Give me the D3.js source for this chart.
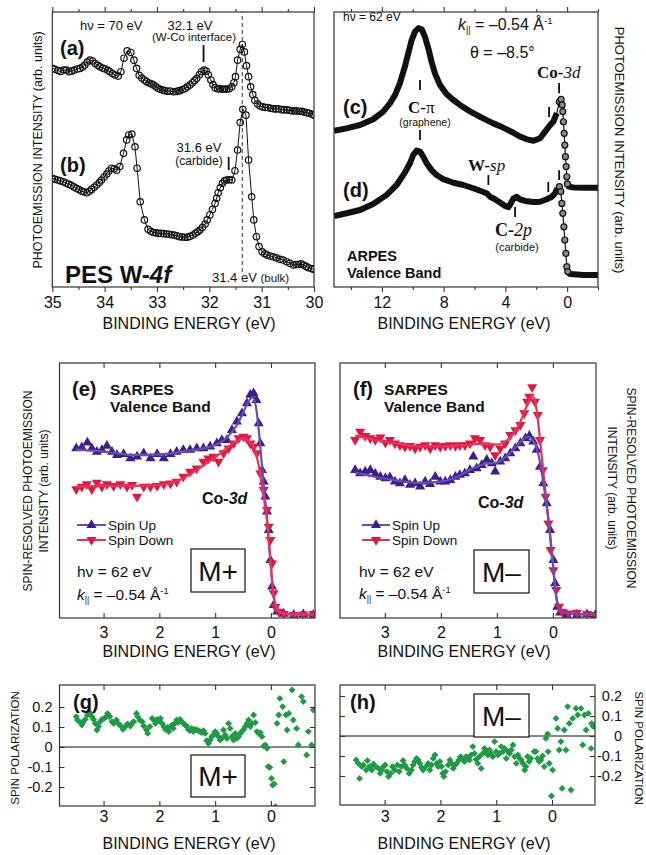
<!DOCTYPE html>
<html>
<head>
<meta charset="utf-8">
<script src="https://cdn.jsdelivr.net/npm/d3@7"></script>
<style>
  body { margin: 0; background: #fff; }
  svg text { font-family: "Liberation Sans", Arial, sans-serif; fill: #111; }
  svg text.serif { font-family: "Liberation Serif", "Times New Roman", serif; }
</style>
</head>
<body>
<div id="chart"></div>
<script>
// ---- tick values ----
const pesTicks = [35, 34, 33, 32, 31, 30];
const pesMinor = [34.5, 33.5, 32.5, 31.5, 30.5];
const vbTicks = [12, 8, 4, 0];
const vbMinor = [14, 10, 6, 2, -2];
const srTicks = [3, 2, 1, 0];
const polTicks = [-0.2, -0.1, 0, 0.1, 0.2];

// ---- (a) / (b) W-4f core level: [binding energy eV, intensity arb.] ----
const pesA = [[35.00,79.5],[34.95,79.2],[34.89,78.7],[34.84,78.4],[34.78,78.9],[34.73,78.9],[34.68,78.3],[34.63,78.5],[34.58,78.9],[34.52,79.3],[34.47,79.5],[34.42,80.0],[34.38,80.7],[34.33,81.8],[34.28,82.5],[34.23,82.2],[34.18,81.3],[34.13,80.6],[34.09,80.1],[34.04,79.6],[33.99,79.3],[33.94,78.8],[33.90,78.3],[33.85,77.6],[33.80,77.1],[33.74,76.7],[33.69,78.3],[33.63,83.2],[33.57,85.9],[33.50,85.3],[33.44,82.5],[33.39,79.5],[33.34,77.0],[33.29,76.0],[33.24,75.3],[33.20,74.7],[33.15,74.2],[33.11,73.9],[33.07,73.5],[33.02,72.8],[32.98,72.3],[32.94,71.9],[32.89,71.6],[32.85,71.4],[32.80,71.2],[32.75,71.3],[32.69,71.0],[32.64,71.1],[32.60,71.3],[32.56,71.4],[32.51,71.8],[32.46,72.2],[32.42,72.8],[32.37,73.5],[32.32,74.3],[32.28,75.1],[32.24,75.9],[32.19,77.2],[32.15,78.3],[32.10,78.9],[32.06,78.5],[32.02,77.2],[31.97,75.3],[31.93,73.6],[31.89,72.5],[31.84,72.0],[31.80,72.2],[31.75,71.9],[31.71,72.0],[31.67,71.9],[31.62,72.1],[31.57,72.8],[31.53,74.3],[31.50,76.5],[31.46,82.5],[31.41,86.4],[31.37,88.2],[31.33,85.5],[31.29,80.5],[31.25,76.5],[31.21,72.8],[31.17,70.0],[31.13,67.9],[31.08,66.6],[31.03,65.8],[30.98,65.5],[30.93,65.3],[30.88,65.3],[30.83,65.0],[30.78,64.8],[30.73,64.7],[30.68,64.8],[30.62,64.5],[30.57,64.4],[30.52,64.4],[30.47,64.3],[30.42,64.0],[30.37,64.1],[30.33,64.0],[30.28,63.9],[30.23,63.9],[30.19,63.6],[30.14,63.4],[30.09,63.2],[30.04,62.8],[30.00,62.5]];
const pesB = [[35.00,39.5],[34.95,39.2],[34.90,38.9],[34.85,38.6],[34.79,38.3],[34.74,37.8],[34.69,37.4],[34.64,37.0],[34.59,36.4],[34.54,35.9],[34.49,35.4],[34.44,34.9],[34.40,34.6],[34.34,34.3],[34.29,34.8],[34.25,35.5],[34.20,36.3],[34.15,37.1],[34.10,38.0],[34.06,38.9],[34.01,40.0],[33.96,41.1],[33.92,42.2],[33.87,43.2],[33.82,43.0],[33.77,42.5],[33.71,43.8],[33.64,48.6],[33.58,53.5],[33.54,55.3],[33.48,55.6],[33.42,51.0],[33.38,43.2],[33.32,31.0],[33.24,24.4],[33.17,21.0],[33.12,20.3],[33.07,19.8],[33.02,19.7],[32.97,19.5],[32.92,19.5],[32.87,19.4],[32.82,19.3],[32.77,19.2],[32.72,19.0],[32.67,18.9],[32.62,18.6],[32.57,18.3],[32.52,18.2],[32.47,18.1],[32.42,18.1],[32.37,18.4],[32.31,18.9],[32.26,19.6],[32.22,20.1],[32.18,20.7],[32.13,21.7],[32.08,22.9],[32.04,24.4],[31.99,26.2],[31.94,28.2],[31.89,30.4],[31.86,32.3],[31.83,34.3],[31.79,36.1],[31.75,37.7],[31.71,38.6],[31.67,38.9],[31.62,39.0],[31.57,38.9],[31.51,42.3],[31.46,49.8],[31.41,59.8],[31.36,64.6],[31.30,62.5],[31.25,46.2],[31.19,32.8],[31.15,24.4],[31.10,18.3],[31.05,14.7],[30.99,12.8],[30.94,12.1],[30.90,11.6],[30.84,11.3],[30.78,11.0],[30.72,10.6],[30.65,10.1],[30.59,9.8],[30.52,9.2],[30.46,8.6],[30.39,8.0],[30.34,8.2],[30.30,8.2],[30.25,8.4],[30.20,8.0],[30.15,7.5],[30.11,7.0],[30.05,6.7],[30.00,6.4]];
const pesBars = [[32.11, 81.8, 88.0], [31.63, 42.5, 47.3]];
const bulkLine = [31.37, 5.5, 100];

// ---- (c) / (d) ARPES valence band ----
const vbC = [[15.09,56.8],[14.29,57.7],[13.42,58.9],[12.56,61.0],[11.91,63.8],[11.48,66.8],[11.15,69.8],[10.83,74.1],[10.51,80.1],[10.29,85.0],[10.07,89.8],[9.86,92.8],[9.64,94.1],[9.42,93.7],[9.21,91.0],[8.99,86.8],[8.78,81.9],[8.56,77.7],[8.24,73.5],[7.80,70.1],[7.37,68.0],[6.94,66.2],[6.51,64.6],[6.08,63.2],[5.64,61.9],[5.21,60.7],[4.78,59.5],[4.35,58.5],[3.91,57.3],[3.48,56.1],[3.05,54.7],[2.61,53.7],[2.18,53.2],[1.75,54.1],[1.43,56.5],[1.10,58.9],[0.89,60.1],[0.67,63.2],[0.50,67.4],[0.39,68.2],[0.32,66.2],[0.28,63.8],[0.24,60.1],[0.19,55.9],[0.15,51.6],[0.11,47.4],[0.06,43.8],[0.02,40.1],[-0.02,37.5],[-0.11,36.5],[-0.41,36.2],[-1.28,36.1],[-2.00,36.1]];
const vbD = [[15.09,25.8],[14.29,26.8],[13.42,28.0],[12.56,30.2],[11.69,33.5],[11.04,37.1],[10.51,41.6],[10.18,45.0],[9.97,48.0],[9.75,49.6],[9.53,49.2],[9.32,47.4],[9.10,45.0],[8.78,42.5],[8.45,40.7],[8.02,39.2],[7.37,37.9],[6.72,37.1],[6.08,35.9],[5.64,35.0],[5.21,34.1],[4.99,32.8],[4.67,31.9],[4.35,30.7],[4.02,29.5],[3.80,29.0],[3.65,30.4],[3.48,32.2],[3.26,32.8],[3.05,31.9],[2.72,31.3],[2.18,30.9],[1.75,31.0],[1.32,31.9],[0.99,32.8],[0.78,34.1],[0.63,35.9],[0.50,36.5],[0.41,34.7],[0.34,30.4],[0.28,26.8],[0.21,21.9],[0.15,17.1],[0.08,12.2],[0.02,7.4],[-0.04,5.6],[-0.19,4.7],[-1.06,4.4],[-2.00,4.4]];
const vbBars = [[9.53,71.6,75.3],[9.53,53.5,57.1],[0.52,70.5,74.2],[1.17,61.8,65.5],[5.10,37.1,40.7],[1.22,34.5,38.2],[0.52,38.9,42.5],[3.37,25.5,29.1]];

// ---- (e) SARPES M+ ----
const upE = [[3.49,66.5],[3.39,66.9],[3.29,68.8],[3.21,66.5],[3.12,65.2],[3.03,65.9],[2.94,67.5],[2.85,65.2],[2.76,63.9],[2.64,64.3],[2.52,62.6],[2.40,63.3],[2.28,64.6],[2.16,62.6],[2.04,64.3],[1.92,62.6],[1.80,64.3],[1.69,65.2],[1.57,65.9],[1.45,65.9],[1.33,66.5],[1.21,66.5],[1.09,67.2],[0.97,68.5],[0.88,69.8],[0.79,69.8],[0.70,73.7],[0.61,77.0],[0.52,80.3],[0.43,84.2],[0.37,87.5],[0.31,88.1],[0.26,85.5],[0.22,76.3],[0.19,68.5],[0.16,58.0],[0.13,53.5],[0.10,47.6],[0.07,41.7],[0.04,34.5],[0.01,22.7],[-0.02,12.3],[-0.05,5.1],[-0.11,2.5],[-0.23,1.6],[-0.41,1.2],[-0.58,1.4],[-0.76,1.2]];
const downE = [[3.49,50.5],[3.39,51.5],[3.30,52.5],[3.21,50.5],[3.12,53.1],[3.03,51.5],[2.94,52.5],[2.82,51.8],[2.70,52.5],[2.58,51.5],[2.49,52.2],[2.40,47.6],[2.28,51.5],[2.16,51.5],[2.04,51.8],[1.92,52.5],[1.80,52.8],[1.69,53.5],[1.57,55.4],[1.45,57.4],[1.33,58.7],[1.21,61.3],[1.12,62.6],[1.03,63.3],[0.94,61.3],[0.85,64.6],[0.76,66.5],[0.67,68.5],[0.58,70.5],[0.49,71.1],[0.43,70.5],[0.37,68.5],[0.31,67.2],[0.25,64.6],[0.19,56.7],[0.13,50.2],[0.07,42.4],[0.04,35.8],[0.01,30.6],[-0.02,21.4],[-0.05,9.7],[-0.08,4.4],[-0.14,2.5],[-0.23,1.6],[-0.41,1.2],[-0.58,1.4],[-0.76,1.6]];
const fitUpE = [[3.5,66],[3.0,65.3],[2.5,64],[2.0,64.2],[1.5,65.5],[1.2,66.5],[1.0,67.8],[0.8,70.5],[0.6,76],[0.5,80.5],[0.4,85],[0.33,86.5],[0.27,83],[0.22,74],[0.17,62],[0.12,50],[0.07,39],[0.03,28],[0,20],[-0.04,10],[-0.08,5],[-0.15,2.5],[-0.3,1.5],[-0.77,1.3]];
const fitDownE = [[3.5,51.5],[3.0,51.8],[2.5,51.8],[2.0,52.2],[1.7,53.5],[1.4,57],[1.2,60],[1.0,63],[0.8,66.5],[0.6,69.5],[0.48,70.5],[0.4,69.5],[0.3,66.5],[0.22,60],[0.17,53],[0.12,46],[0.07,38],[0.03,28],[0,20],[-0.04,10],[-0.08,5],[-0.15,2.5],[-0.3,1.5],[-0.77,1.3]];

// ---- (f) SARPES M- ----
const upF = [[3.53,58.0],[3.44,56.7],[3.35,57.4],[3.26,58.0],[3.17,56.5],[3.08,55.4],[2.99,54.8],[2.91,55.2],[2.82,53.5],[2.73,52.8],[2.64,54.1],[2.55,52.2],[2.46,52.8],[2.37,51.5],[2.28,53.5],[2.19,52.5],[2.10,55.4],[2.01,53.5],[1.92,53.5],[1.83,54.1],[1.74,55.4],[1.66,56.1],[1.57,56.7],[1.48,58.0],[1.42,63.3],[1.36,58.7],[1.27,60.0],[1.18,62.0],[1.09,60.7],[1.03,57.4],[0.94,61.3],[0.85,62.6],[0.76,64.6],[0.67,66.5],[0.58,68.5],[0.49,70.5],[0.42,71.4],[0.35,69.2],[0.29,65.9],[0.23,59.3],[0.17,52.8],[0.11,45.0],[0.05,34.5],[-0.01,22.7],[-0.04,13.6],[-0.08,4.4],[-0.13,2.1],[-0.25,1.2],[-0.43,1.2],[-0.61,1.4],[-0.76,1.2]];
const downF = [[3.53,69.8],[3.44,73.1],[3.35,71.4],[3.26,70.5],[3.17,69.8],[3.08,70.8],[2.99,68.8],[2.91,69.8],[2.82,68.5],[2.73,67.8],[2.64,67.2],[2.55,67.5],[2.46,66.5],[2.37,67.2],[2.28,67.8],[2.19,66.5],[2.10,67.8],[2.01,67.2],[1.92,67.5],[1.83,67.8],[1.74,67.5],[1.66,67.8],[1.57,67.8],[1.48,68.5],[1.39,70.5],[1.30,69.8],[1.21,67.8],[1.12,67.2],[1.03,63.9],[0.94,66.5],[0.85,68.5],[0.76,71.8],[0.67,73.7],[0.58,75.7],[0.51,80.3],[0.46,84.8],[0.42,86.8],[0.37,90.5],[0.32,84.8],[0.27,79.6],[0.23,69.8],[0.18,58.0],[0.13,47.6],[0.08,37.1],[0.04,26.7],[-0.01,18.8],[-0.06,11.0],[-0.11,4.4],[-0.16,2.5],[-0.28,1.8],[-0.43,2.1],[-0.61,1.6],[-0.76,1.2]];
const fitUpF = [[3.53,57],[3.2,55.5],[2.8,54],[2.4,53],[2.0,53.5],[1.7,55.5],[1.4,59],[1.2,60.5],[1.0,61],[0.8,64],[0.6,68.5],[0.45,71],[0.35,69.5],[0.28,66],[0.22,60],[0.15,50],[0.1,42],[0.05,32],[0,21],[-0.05,10],[-0.1,4.5],[-0.2,2.2],[-0.4,1.6],[-0.77,1.4]];
const fitDownF = [[3.53,71.5],[3.2,70],[2.8,68.5],[2.4,67.3],[2.0,67.3],[1.6,67.8],[1.3,68.3],[1.0,68],[0.8,70],[0.65,74],[0.55,78.5],[0.45,84],[0.38,87],[0.33,86],[0.28,80],[0.22,68],[0.15,53],[0.1,43],[0.05,33],[0,22],[-0.05,10],[-0.1,4.5],[-0.2,2.2],[-0.4,1.6],[-0.77,1.4]];

// ---- (g) / (h) spin polarization: [binding energy eV, polarization] ----
const polG = [[3.49,0.152],[3.47,0.135],[3.43,0.127],[3.39,0.110],[3.37,0.122],[3.33,0.138],[3.29,0.160],[3.27,0.177],[3.24,0.168],[3.21,0.152],[3.18,0.138],[3.15,0.118],[3.12,0.085],[3.09,0.102],[3.06,0.127],[3.03,0.138],[2.99,0.143],[2.95,0.152],[2.93,0.168],[2.89,0.152],[2.85,0.127],[2.82,0.118],[2.77,0.135],[2.73,0.115],[2.69,0.105],[2.65,0.088],[2.61,0.102],[2.57,0.115],[2.52,0.105],[2.49,0.118],[2.46,0.127],[2.41,0.168],[2.39,0.152],[2.35,0.135],[2.31,0.127],[2.28,0.105],[2.23,0.085],[2.21,0.068],[2.17,0.102],[2.13,0.143],[2.10,0.135],[2.07,0.118],[2.04,0.138],[2.01,0.132],[1.98,0.143],[1.95,0.118],[1.92,0.102],[1.89,0.088],[1.86,0.098],[1.83,0.077],[1.80,0.102],[1.77,0.110],[1.75,0.093],[1.72,0.118],[1.69,0.135],[1.66,0.122],[1.63,0.138],[1.60,0.127],[1.57,0.118],[1.54,0.110],[1.51,0.105],[1.48,0.088],[1.45,0.082],[1.42,0.093],[1.39,0.077],[1.36,0.088],[1.33,0.085],[1.30,0.082],[1.27,0.077],[1.24,0.072],[1.21,0.082],[1.18,0.068],[1.15,0.032],[1.12,0.018],[1.09,0.035],[1.06,0.052],[1.03,0.060],[1.00,0.077],[0.97,0.068],[0.94,0.052],[0.91,0.035],[0.88,0.043],[0.85,0.085],[0.82,0.060],[0.79,0.043],[0.76,0.118],[0.73,0.093],[0.70,0.052],[0.67,0.035],[0.64,0.068],[0.61,0.043],[0.58,0.052],[0.55,0.068],[0.52,0.077],[0.49,0.088],[0.46,0.102],[0.43,0.118],[0.40,0.135],[0.37,0.102],[0.34,0.118],[0.31,0.160],[0.28,0.122],[0.25,0.077],[0.22,0.068],[0.19,0.072],[0.16,0.052],[0.13,0.005],[0.10,0.010],[0.07,-0.007],[0.05,-0.098],[0.02,-0.102],[-0.01,-0.157],[-0.03,-0.190],[-0.06,-0.185],[-0.08,-0.298],[-0.11,0.118],[-0.14,0.160],[-0.16,0.243],[-0.21,0.202],[-0.23,-0.073],[-0.27,0.160],[-0.29,0.085],[-0.32,0.168],[-0.38,0.285],[-0.40,0.135],[-0.46,0.093],[-0.49,0.010],[-0.55,0.252],[-0.58,0.227],[-0.64,-0.040],[-0.67,0.077],[-0.73,0.010],[-0.76,0.185]];
const polH = [[3.51,-0.120],[3.47,-0.137],[3.45,-0.212],[3.41,-0.153],[3.38,-0.145],[3.33,-0.170],[3.31,-0.123],[3.27,-0.153],[3.23,-0.170],[3.20,-0.140],[3.16,-0.153],[3.11,-0.162],[3.08,-0.187],[3.05,-0.170],[3.02,-0.153],[2.99,-0.145],[2.96,-0.178],[2.93,-0.203],[2.89,-0.187],[2.86,-0.153],[2.82,-0.170],[2.77,-0.145],[2.74,-0.178],[2.70,-0.153],[2.67,-0.123],[2.64,-0.145],[2.60,-0.162],[2.56,-0.187],[2.52,-0.170],[2.49,-0.145],[2.46,-0.128],[2.43,-0.112],[2.40,-0.120],[2.37,-0.137],[2.34,-0.157],[2.31,-0.170],[2.26,-0.153],[2.22,-0.137],[2.19,-0.170],[2.16,-0.145],[2.13,-0.112],[2.10,-0.095],[2.07,-0.137],[2.04,-0.153],[2.01,-0.128],[1.98,-0.153],[1.96,-0.187],[1.94,-0.203],[1.91,-0.178],[1.86,-0.145],[1.83,-0.120],[1.80,-0.137],[1.77,-0.162],[1.74,-0.145],[1.71,-0.137],[1.67,-0.120],[1.64,-0.103],[1.61,-0.117],[1.57,-0.128],[1.54,-0.103],[1.51,-0.112],[1.48,-0.120],[1.45,-0.095],[1.42,-0.053],[1.39,-0.087],[1.36,-0.117],[1.33,-0.137],[1.30,-0.103],[1.27,-0.162],[1.24,-0.087],[1.21,-0.062],[1.18,-0.078],[1.15,-0.095],[1.12,-0.070],[1.09,-0.087],[1.06,-0.103],[1.03,-0.028],[1.00,-0.078],[0.97,-0.095],[0.94,-0.087],[0.91,-0.053],[0.88,-0.078],[0.85,-0.062],[0.82,-0.112],[0.79,-0.078],[0.76,-0.087],[0.73,-0.070],[0.70,-0.045],[0.67,-0.103],[0.64,-0.137],[0.61,-0.095],[0.58,-0.112],[0.55,-0.120],[0.52,-0.137],[0.49,-0.170],[0.47,-0.153],[0.44,-0.103],[0.41,-0.128],[0.38,-0.112],[0.32,-0.078],[0.29,-0.078],[0.26,-0.112],[0.23,-0.128],[0.20,-0.120],[0.17,-0.100],[0.14,-0.153],[0.11,-0.012],[0.08,0.010],[0.07,-0.078],[0.05,-0.137],[0.01,-0.300],[-0.01,-0.170],[-0.07,0.088],[-0.10,0.038],[-0.13,-0.070],[-0.16,-0.028],[-0.18,-0.262],[-0.22,0.030],[-0.25,-0.070],[-0.28,0.147],[-0.31,0.063],[-0.34,-0.270],[-0.37,0.088],[-0.43,0.138],[-0.46,0.105],[-0.52,0.138],[-0.55,-0.045],[-0.58,0.105],[-0.61,0.030],[-0.65,0.113],[-0.70,-0.062],[-0.71,0.063],[-0.74,0.047]];

// ---- styling ----
const C_UP = '#3d1e8e', C_DN = '#e2173f', L_UP = '#6450b4', L_DN = '#e8345a', C_POL = '#1f9a45';
const FRAME = '#333';

const W = 646, H = 855;
const svg = d3.select('#chart').append('svg').attr('width', W).attr('height', H);
const defs = svg.append('defs');

let clipN = 0;
function panel(l, t, r, b, xDom, yDom) {
  const x = d3.scaleLinear().domain(xDom).range([l, r]);
  const y = d3.scaleLinear().domain(yDom).range([b, t]);
  const id = 'clip' + (clipN++);
  defs.append('clipPath').attr('id', id).append('rect')
    .attr('x', l).attr('y', t).attr('width', r - l).attr('height', b - t);
  const g = svg.append('g').attr('clip-path', `url(#${id})`);
  return { l, t, r, b, x, y, g };
}
function frame(P) {
  svg.append('rect').attr('x', P.l).attr('y', P.t)
    .attr('width', P.r - P.l).attr('height', P.b - P.t)
    .attr('fill', 'none').attr('stroke', FRAME).attr('stroke-width', 1.2);
}
function clean(sel, fs) {
  sel.select('.domain').remove();
  sel.attr('color', FRAME).attr('font-size', fs)
    .attr('font-family', '"Liberation Sans", Arial, sans-serif');
  sel.selectAll('line').attr('stroke-width', 1.1);
}
function xAxes(P, major, minor, inward, pad) {
  const s = inward ? -1 : 1;
  svg.append('g').attr('transform', `translate(0,${P.b})`)
    .call(d3.axisBottom(P.x).tickValues(major).tickSize(5 * s).tickPadding(pad).tickFormat(d3.format('d')))
    .call(g => clean(g, 16));
  svg.append('g').attr('transform', `translate(0,${P.t})`)
    .call(d3.axisTop(P.x).tickValues(major).tickSize(5 * s).tickFormat(''))
    .call(g => clean(g, 16));
  if (minor) {
    svg.append('g').attr('transform', `translate(0,${P.b})`)
      .call(d3.axisBottom(P.x).tickValues(minor).tickSize(3 * s).tickFormat(''))
      .call(g => clean(g, 16));
    svg.append('g').attr('transform', `translate(0,${P.t})`)
      .call(d3.axisTop(P.x).tickValues(minor).tickSize(3 * s).tickFormat(''))
      .call(g => clean(g, 16));
  }
}
function xTitle(cx, y) {
  svg.append('text').attr('x', cx).attr('y', y).attr('text-anchor', 'middle')
    .attr('font-size', 16).text('BINDING ENERGY (eV)');
}
function vText(x, y, rot, fs, str) {
  svg.append('text').attr('transform', `translate(${x},${y}) rotate(${rot})`)
    .attr('text-anchor', 'middle').attr('dy', '0.35em').attr('font-size', fs).text(str);
}
function txt(x, y, fs, str, opt = {}) {
  const t = svg.append('text').attr('x', x).attr('y', y).attr('font-size', fs)
    .attr('text-anchor', opt.anchor || 'start');
  if (opt.bold) t.attr('font-weight', 'bold');
  if (opt.cls) t.attr('class', opt.cls);
  if (str != null) t.text(str);
  return t;
}
function bars(P, list, w) {
  svg.append('g').selectAll('line').data(list).join('line')
    .attr('x1', d => P.x(d[0])).attr('x2', d => P.x(d[0]))
    .attr('y1', d => P.y(d[1])).attr('y2', d => P.y(d[2]))
    .attr('stroke', '#111').attr('stroke-width', w);
}
function hv(x, y, fs, val) {
  const t = txt(x, y, fs, null);
  t.append('tspan').text('h\u03BD = ' + val + ' eV');
}
function kpar(x, y, fs) {
  const t = txt(x, y, fs, null);
  t.append('tspan').attr('font-style', 'italic').attr('class', 'serif').text('k');
  t.append('tspan').attr('font-size', fs * 0.55).attr('dy', 3).text('||');
  t.append('tspan').attr('dy', -3).text(' = \u20130.54 \u00C5');
  t.append('tspan').attr('font-size', fs * 0.6).attr('dy', -fs * 0.4).text('-1');
}

// =================== (a)/(b) ===================
const pAB = panel(52.3, 12, 314, 287, [35, 30], [0, 100]);
pAB.g.append('line')
  .attr('x1', pAB.x(bulkLine[0])).attr('x2', pAB.x(bulkLine[0]))
  .attr('y1', pAB.y(bulkLine[1])).attr('y2', pAB.y(bulkLine[2]))
  .attr('stroke', '#555').attr('stroke-width', 1.2).attr('stroke-dasharray', '4,3');
const linePES = d3.line().x(d => pAB.x(d[0])).y(d => pAB.y(d[1]));
[pesA, pesB].forEach(s => {
  pAB.g.append('path').attr('d', linePES(s)).attr('fill', 'none')
    .attr('stroke', '#111').attr('stroke-width', 1);
  pAB.g.append('g').selectAll('circle').data(s).join('circle')
    .attr('cx', d => pAB.x(d[0])).attr('cy', d => pAB.y(d[1])).attr('r', 3.2)
    .attr('fill', 'none').attr('stroke', '#111').attr('stroke-width', 1.2);
});
frame(pAB);
xAxes(pAB, pesTicks, pesMinor, false, 5);
xTitle(189, 329);
vText(37.5, 150, -90, 12.5, 'PHOTOEMISSION INTENSITY (arb. units)');
bars(pAB, pesBars, 1.8);
hv(80, 29.5, 13, '70');
txt(190, 29.5, 13, '32.1 eV', { anchor: 'middle' });
txt(194, 41, 11.5, '(W-Co interface)', { anchor: 'middle' });
txt(60, 55, 20, '(a)', { bold: true });
txt(60, 172, 20, '(b)', { bold: true });
txt(199, 151.5, 13, '31.6 eV', { anchor: 'middle' });
txt(199, 165, 12, '(carbide)', { anchor: 'middle' });
{
  const t = txt(65, 283, 24, null, { bold: true });
  t.append('tspan').text('PES W-');
  t.append('tspan').attr('font-style', 'italic').text('4f');
  const b = txt(212, 281.5, 13, null);
  b.append('tspan').text('31.4 eV ');
  b.append('tspan').attr('font-size', 11.5).text('(bulk)');
}

// =================== (c)/(d) ===================
const pCD = panel(334, 12, 598, 287, [15.1, -2.0], [0, 100]);
const lineVB = d3.line().x(d => pCD.x(d[0])).y(d => pCD.y(d[1]));
[vbC, vbD].forEach(s => {
  pCD.g.append('path').attr('d', lineVB(s)).attr('fill', 'none')
    .attr('stroke', '#111').attr('stroke-width', 1.2);
  // dense regions: overlapping markers read as a solid band
  pCD.g.append('path').attr('d', lineVB(s.filter(d => d[0] >= 0.55))).attr('fill', 'none')
    .attr('stroke', '#111').attr('stroke-width', 6).attr('stroke-linejoin', 'round');
  pCD.g.append('path').attr('d', lineVB(s.filter(d => d[0] <= -0.1))).attr('fill', 'none')
    .attr('stroke', '#111').attr('stroke-width', 6).attr('stroke-linecap', 'round');
  pCD.g.append('g').selectAll('circle').data(s.filter(d => d[0] < 0.55 && d[0] > -0.1)).join('circle')
    .attr('cx', d => pCD.x(d[0])).attr('cy', d => pCD.y(d[1])).attr('r', 3)
    .attr('fill', '#8a8a8a').attr('stroke', '#111').attr('stroke-width', 1.2);
});
frame(pCD);
xAxes(pCD, vbTicks, vbMinor, false, 5);
xTitle(464, 329);
vText(620, 150, 90, 13, 'PHOTOEMISSION INTENSITY (arb. units)');
bars(pCD, vbBars, 1.8);
hv(343, 21, 12, '62');
kpar(458, 30, 16);
txt(470, 58, 16, '\u03B8 = \u20138.5\u00B0');
{
  const t = txt(537, 78, 17, null, { bold: true, cls: 'serif' });
  t.append('tspan').text('Co-');
  t.append('tspan').attr('font-style', 'italic').attr('font-weight', 'normal').text('3d');
  const c = txt(408, 113, 17, null, { bold: true, cls: 'serif' });
  c.append('tspan').text('C-');
  c.append('tspan').attr('font-weight', 'normal').text('\u03C0');
  const w = txt(468, 171, 17, null, { bold: true, cls: 'serif' });
  w.append('tspan').text('W-');
  w.append('tspan').attr('font-style', 'italic').attr('font-weight', 'normal').text('sp');
  const c2 = txt(495, 236, 18, null, { bold: true, cls: 'serif' });
  c2.append('tspan').text('C-');
  c2.append('tspan').attr('font-style', 'italic').attr('font-weight', 'normal').text('2p');
}
txt(343, 114, 20, '(c)', { bold: true });
txt(343, 197, 20, '(d)', { bold: true });
txt(425, 126, 10.5, '(graphene)', { anchor: 'middle' });
txt(517, 251, 11, '(carbide)', { anchor: 'middle' });
txt(347, 260.5, 14.5, 'ARPES', { bold: true });
txt(347, 277.5, 14.5, 'Valence Band', { bold: true });

// =================== (e)/(f) ===================
const triUp = d3.symbol().type(d3.symbolTriangle).size(44)();
function spinPanel(P, up, down, fitUp, fitDown, upOnTop) {
  const ln = d3.line().curve(d3.curveMonotoneX).x(d => P.x(d[0])).y(d => P.y(d[1]));
  const drawPts = (s, col, rot) => P.g.append('g').selectAll('path').data(s).join('path')
    .attr('d', triUp).attr('fill', col)
    .attr('transform', d => `translate(${P.x(d[0])},${P.y(d[1])}) rotate(${rot})`);
  const drawFit = (s, col) => P.g.append('path').attr('d', ln(s)).attr('fill', 'none')
    .attr('stroke', col).attr('stroke-width', 2.2);
  drawPts(up, C_UP, 0);
  drawPts(down, C_DN, 180);
  if (upOnTop) { drawFit(fitDown, L_DN); drawFit(fitUp, L_UP); }
  else { drawFit(fitUp, L_UP); drawFit(fitDown, L_DN); }
  frame(P);
  xAxes(P, srTicks, null, true, 9);
}
function legend(x0, x1, y0, gap) {
  [[C_UP, L_UP, 0, 'Spin Up'], [C_DN, L_DN, 180, 'Spin Down']].forEach((it, i) => {
    const y = y0 + i * gap;
    svg.append('line').attr('x1', x0).attr('x2', x1).attr('y1', y).attr('y2', y)
      .attr('stroke', it[1]).attr('stroke-width', 2);
    svg.append('path').attr('d', triUp).attr('fill', it[0])
      .attr('transform', `translate(${(x0 + x1) / 2},${y}) rotate(${it[2]})`);
    txt(x1 + 2, y + 5, 13.5, it[3]);
  });
}
function box(l, t, r, b, label) {
  svg.append('rect').attr('x', l).attr('y', t).attr('width', r - l).attr('height', b - t)
    .attr('fill', '#fff').attr('stroke', '#111').attr('stroke-width', 1.2);
  txt((l + r) / 2, (t + b) / 2 + 10, 28, label, { anchor: 'middle' });
}
function coLabel(x, y) {
  const t = txt(x, y, 16, null, { bold: true });
  t.append('tspan').text('Co-');
  t.append('tspan').attr('font-style', 'italic').text('3d');
}

const pE = panel(59.5, 363, 315, 618, [3.79, -0.79], [0, 100]);
spinPanel(pE, upE, downE, fitUpE, fitDownE, false);
xTitle(189, 657);
vText(27.5, 491, -90, 12, 'SPIN-RESOLVED PHOTOEMISSION');
vText(43.5, 491, -90, 12, 'INTENSITY (arb. units)');
txt(72, 396, 20, '(e)', { bold: true });
txt(110, 394.5, 15.5, 'SARPES', { bold: true });
txt(110, 411.5, 15.5, 'Valence Band', { bold: true });
coLabel(202, 504);
legend(77, 106, 525, 15);
hv(77, 577, 15.5, '62');
kpar(77, 600, 15.5);
box(191, 549, 245, 592, 'M+');

const pF = panel(340, 363, 596, 618, [3.8, -0.77], [0, 100]);
spinPanel(pF, upF, downF, fitUpF, fitDownF, true);
xTitle(464, 657);
vText(631, 488, 90, 12, 'SPIN-RESOLVED PHOTOEMISSION');
vText(612.5, 488, 90, 12, 'INTENSITY (arb. units)');
txt(353, 396, 20, '(f)', { bold: true });
txt(384, 394.5, 15.5, 'SARPES', { bold: true });
txt(384, 411.5, 15.5, 'Valence Band', { bold: true });
coLabel(478, 508);
legend(362, 390, 525, 15);
hv(359, 577, 15.5, '62');
kpar(359, 599, 15.5);
box(474, 550, 529, 593, 'M\u2013');

// =================== (g)/(h) ===================
const diamond = d3.symbol().type(d3.symbolSquare).size(24)();
const fmtPol = d => d === 0 ? '0' : String(d);
function polPanel(P, data, labelsLeft, pad) {
  P.g.append('line').attr('x1', P.l).attr('x2', P.r).attr('y1', P.y(0)).attr('y2', P.y(0))
    .attr('stroke', '#111').attr('stroke-width', 1.1);
  P.g.append('g').selectAll('path').data(data).join('path')
    .attr('d', diamond).attr('fill', C_POL)
    .attr('transform', d => `translate(${P.x(d[0])},${P.y(d[1])}) rotate(45)`);
  frame(P);
  xAxes(P, srTicks, null, true, pad);
  svg.append('g').attr('transform', `translate(${P.l},0)`)
    .call(d3.axisLeft(P.y).tickValues(polTicks).tickSize(-5).tickPadding(7)
      .tickFormat(labelsLeft ? fmtPol : ''))
    .call(g => clean(g, 14.5));
  const right = svg.append('g').attr('transform', `translate(${P.r},0)`)
    .call(d3.axisRight(P.y).tickValues(polTicks).tickSize(-5).tickPadding(27)
      .tickFormat(labelsLeft ? '' : fmtPol))
    .call(g => clean(g, 14.5));
  right.selectAll('text').attr('text-anchor', 'end');
}

const pG = panel(59.5, 685, 315, 806, [3.79, -0.79], [-0.295, 0.31]);
polPanel(pG, polG, true, 5);
xTitle(189, 849);
vText(15, 748, -90, 11.5, 'SPIN POLARIZATION');
txt(73, 709, 20, '(g)', { bold: true });
box(191, 755, 245, 797, 'M+');

const pH = panel(340, 685, 595, 805, [3.8, -0.77], [-0.345, 0.255]);
polPanel(pH, polH, false, 6);
xTitle(464, 849);
vText(639, 748, 90, 11.5, 'SPIN POLARIZATION');
txt(350, 709, 20, '(h)', { bold: true });
box(474, 694, 529, 737, 'M\u2013');
</script>
</body>
</html>
